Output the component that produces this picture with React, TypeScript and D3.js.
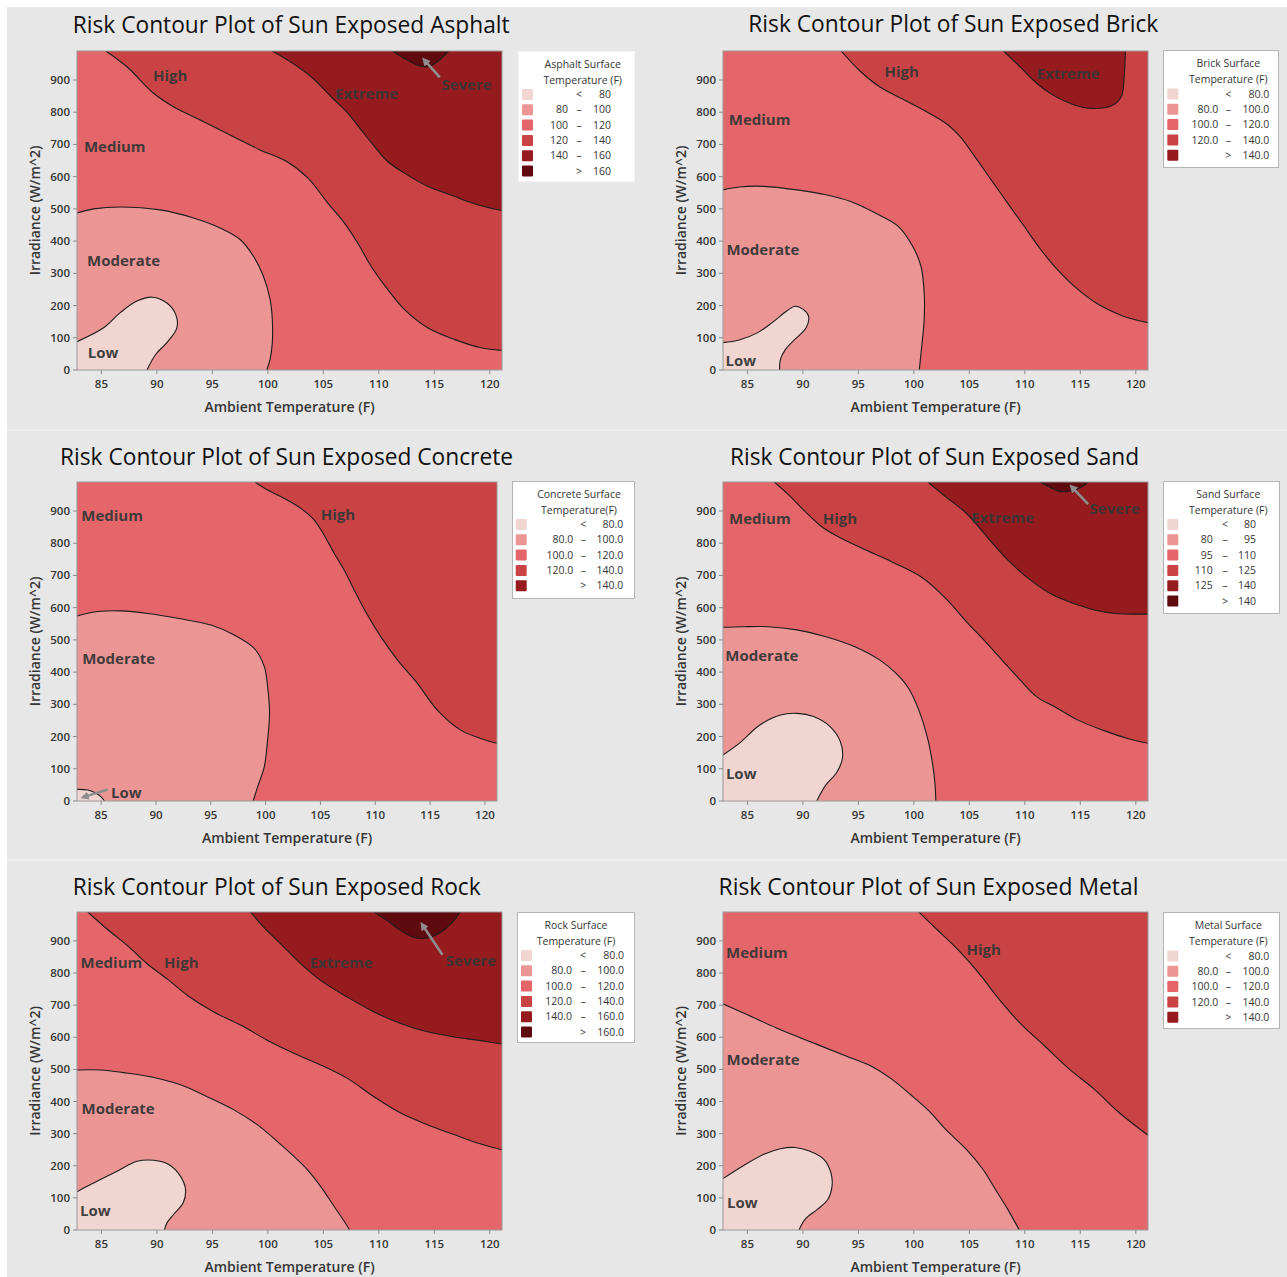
import React from 'react';
import * as d3 from 'd3';

type Pt = [number, number];

// axes shared by all six plots
const tempDomain: [number, number] = [82.8, 121.1];
const irrDomain: [number, number] = [0, 990];
const tempTicks = [85, 90, 95, 100, 105, 110, 115, 120];
const irrTicks = [0, 100, 200, 300, 400, 500, 600, 700, 800, 900];

// Low, Moderate, Medium, High, Extreme, Severe
const riskColors = ['#f0d5d0', '#eb9595', '#e5666a', '#c94244', '#951b1f', '#5f0a0e'];

// ---- Asphalt
const asphaltTitle = 'Risk Contour Plot of Sun Exposed Asphalt';
const asphaltLegendTitle = ['Asphalt Surface', 'Temperature (F)'];
const asphaltBreaks = [80, 100, 120, 140, 160];
const asphaltContours: Pt[][] = [
  [[82.8, 88], [85.2, 131], [86.7, 178], [88.2, 214], [89.6, 226], [90.9, 208], [91.7, 172], [91.8, 131], [90.9, 85], [89.9, 49], [89.1, 0]],
  [[82.8, 487], [84.3, 500], [86.7, 506], [90.3, 497], [93.3, 472], [95.7, 441], [97.5, 405], [98.7, 353], [99.6, 291], [100.2, 219], [100.4, 157], [100.4, 85], [100.2, 33], [99.9, 0]],
  [[85.4, 990], [87.3, 941], [89.7, 859], [91.5, 817], [93.9, 776], [96.9, 724], [99.3, 683], [101.7, 647], [103.6, 596], [105.4, 518], [106.9, 456], [108.1, 394], [109.3, 322], [110.8, 250], [112.3, 188], [114.4, 131], [116.8, 95], [119.2, 69], [121.1, 61]],
  [[100.4, 990], [102.0, 957], [103.9, 910], [105.7, 848], [107.2, 797], [108.4, 745], [109.6, 694], [110.8, 647], [112.3, 611], [114.4, 570], [116.8, 539], [118.9, 513], [121.1, 495]],
  [[111.2, 990], [112.3, 967], [113.5, 946], [114.4, 941], [115.3, 957], [116.3, 990]],
];
const asphaltLabels = [
  { text: 'Low', t: 85.15, irr: 52 }, { text: 'Moderate', t: 87.0, irr: 340 },
  { text: 'Medium', t: 86.2, irr: 693 }, { text: 'High', t: 91.2, irr: 912 },
  { text: 'Extreme', t: 108.9, irr: 857 }, { text: 'Severe', t: 117.9, irr: 884 },
];
const asphaltArrows: Pt[][] = [[[115.5, 908], [114.1, 962]]];

// ---- Brick
const brickTitle = 'Risk Contour Plot of Sun Exposed Brick';
const brickLegendTitle = ['Brick Surface', 'Temperature (F)'];
const brickBreaks = [80, 100, 120, 140];
const brickContours: Pt[][] = [
  [[82.8, 85], [84.26, 93], [85.93, 116], [87.23, 147], [88.54, 183], [89.28, 198], [90.03, 188], [90.51, 167], [90.29, 131], [89.28, 95], [88.43, 64], [87.98, 33], [87.9, 0]],
  [[82.8, 559], [84.26, 568], [86.49, 570], [89.47, 559], [92.07, 544], [94.31, 523], [96.54, 487], [98.59, 446], [99.89, 384], [100.64, 322], [100.93, 239], [100.93, 157], [100.71, 74], [100.49, 0]],
  [[93.45, 990], [95.05, 931], [96.91, 879], [99.15, 838], [101.38, 797], [103.06, 761], [104.17, 724], [105.48, 663], [106.97, 590], [108.45, 518], [109.94, 446], [111.43, 374], [112.92, 312], [114.78, 250], [116.65, 203], [118.88, 167], [121.1, 147]],
  [[108.08, 990], [109.57, 941], [111.06, 890], [112.55, 853], [114.41, 823], [115.9, 812], [117.76, 819], [118.69, 848], [118.95, 910], [119.06, 990]],
];
const brickLabels = [
  { text: 'Low', t: 84.4, irr: 28 }, { text: 'Moderate', t: 86.4, irr: 374 },
  { text: 'Medium', t: 86.1, irr: 776 }, { text: 'High', t: 98.9, irr: 926 },
  { text: 'Extreme', t: 113.9, irr: 918 },
];

// ---- Concrete
const concreteTitle = 'Risk Contour Plot of Sun Exposed Concrete';
const concreteLegendTitle = ['Concrete Surface', 'Temperature(F)'];
const concreteBreaks = [80, 100, 120, 140];
const concreteContours: Pt[][] = [
  [[82.8, 36], [83.79, 34], [84.54, 24], [85, 13], [85.3, 0]],
  [[82.8, 574], [84.7, 588], [86.82, 590], [89.25, 582], [91.98, 567], [95.02, 546], [97.14, 515], [98.96, 474], [99.88, 417], [100.18, 355], [100.36, 272], [100.18, 189], [99.88, 107], [99.27, 44], [98.87, 0]],
  [[99.03, 990], [100.18, 965], [101.7, 939], [103.21, 908], [104.43, 872], [105.34, 825], [106.25, 769], [107.16, 717], [108.07, 655], [109.29, 577], [110.5, 510], [112.02, 438], [113.84, 365], [115.66, 282], [117.79, 220], [119.61, 194], [121.1, 179]],
];
const concreteLabels = [
  { text: 'Low', t: 87.3, irr: 26 }, { text: 'Moderate', t: 86.6, irr: 443 },
  { text: 'Medium', t: 86.0, irr: 884 }, { text: 'High', t: 106.6, irr: 888 },
];
const concreteArrows: Pt[][] = [[[85.6, 36], [83.4, 12]]];

// ---- Sand
const sandTitle = 'Risk Contour Plot of Sun Exposed Sand';
const sandLegendTitle = ['Sand Surface', 'Temperature (F)'];
const sandBreaks = [80, 95, 110, 125, 140];
const sandContours: Pt[][] = [
  [[82.8, 143], [84.26, 179], [86.12, 236], [87.98, 267], [89.47, 272], [90.96, 262], [92.45, 231], [93.38, 184], [93.56, 132], [93.0, 86], [92.07, 50], [91.25, 0]],
  [[82.8, 539], [84.63, 541], [86.86, 541], [89.47, 531], [92.07, 510], [94.68, 479], [96.91, 438], [98.4, 396], [99.52, 350], [100.45, 282], [101.2, 200], [101.68, 117], [101.9, 55], [101.98, 0]],
  [[87.42, 990], [88.72, 950], [90.21, 898], [91.7, 851], [93.19, 820], [95.42, 783], [98.03, 742], [100.64, 696], [102.87, 629], [104.73, 557], [106.59, 489], [108.08, 432], [109.57, 376], [111.06, 324], [112.92, 288], [114.78, 251], [117.02, 220], [119.25, 194], [121.1, 179]],
  [[101.27, 990], [102.87, 944], [104.73, 893], [106.59, 820], [108.45, 748], [110.69, 681], [112.55, 639], [114.41, 613], [116.27, 593], [118.13, 582], [121.1, 580]],
  [[111.36, 990], [112.18, 975], [113.3, 960], [114.23, 963], [115.16, 975], [115.71, 990]],
];
const sandLabels = [
  { text: 'Low', t: 84.44, irr: 86 }, { text: 'Moderate', t: 86.3, irr: 450 },
  { text: 'Medium', t: 86.12, irr: 877 }, { text: 'High', t: 93.34, irr: 877 },
  { text: 'Extreme', t: 108.0, irr: 880 }, { text: 'Severe', t: 118.1, irr: 908 },
];
const sandArrows: Pt[][] = [[[115.7, 921], [114.23, 975]]];

// ---- Rock
const rockTitle = 'Risk Contour Plot of Sun Exposed Rock';
const rockLegendTitle = ['Rock Surface', 'Temperature (F)'];
const rockBreaks = [80, 100, 120, 140, 160];
const rockContours: Pt[][] = [
  [[82.8, 119], [83.71, 136], [84.91, 157], [86.41, 183], [88.22, 214], [89.72, 217], [91.07, 204], [92.13, 167], [92.58, 126], [92.37, 85], [91.52, 49], [90.92, 23], [90.68, 0]],
  [[82.8, 498], [84.91, 498], [87.01, 490], [89.42, 477], [92.13, 452], [94.53, 415], [96.94, 374], [99.04, 328], [100.84, 276], [102.35, 229], [103.55, 188], [104.75, 136], [105.96, 74], [106.86, 28], [107.37, 0]],
  [[83.77, 990], [85.51, 937], [87.32, 886], [89.12, 829], [90.92, 782], [92.73, 731], [95.13, 679], [97.54, 638], [99.94, 591], [102.35, 550], [104.75, 514], [107.16, 472], [109.56, 415], [111.97, 364], [114.37, 328], [116.78, 297], [118.88, 271], [121.1, 250]],
  [[98.44, 990], [99.64, 942], [101.15, 891], [102.95, 829], [104.75, 777], [107.16, 725], [109.56, 679], [111.97, 643], [114.37, 617], [116.78, 601], [118.88, 591], [121.1, 579]],
  [[109.56, 990], [110.77, 963], [111.97, 932], [113.17, 911], [114.37, 909], [115.58, 927], [116.63, 958], [117.32, 990]],
];
const rockLabels = [
  { text: 'Low', t: 84.46, irr: 61 }, { text: 'Moderate', t: 86.5, irr: 376 },
  { text: 'Medium', t: 85.9, irr: 832 }, { text: 'High', t: 92.2, irr: 832 },
  { text: 'Extreme', t: 106.6, irr: 832 }, { text: 'Severe', t: 118.3, irr: 839 },
];
const rockArrows: Pt[][] = [[[115.73, 857], [113.92, 950]]];

// ---- Metal
const metalTitle = 'Risk Contour Plot of Sun Exposed Metal';
const metalLegendTitle = ['Metal Surface', 'Temperature (F)'];
const metalBreaks = [80, 100, 120, 140];
const metalContours: Pt[][] = [
  [[82.8, 160], [84.63, 200], [86.49, 236], [87.98, 253], [89.28, 257], [90.58, 246], [91.89, 220], [92.52, 179], [92.63, 138], [92.26, 96], [91.33, 65], [90.21, 34], [89.65, 0]],
  [[82.8, 704], [85, 670], [87.61, 629], [90.96, 582], [93.94, 541], [96.17, 510], [98.03, 469], [99.89, 416], [101.38, 370], [102.87, 313], [104.73, 251], [106.22, 189], [107.34, 127], [108.45, 65], [109.5, 0]],
  [[100.45, 990], [102.13, 934], [103.99, 872], [105.85, 800], [107.71, 717], [109.57, 644], [111.81, 572], [114.04, 500], [116.27, 438], [118.51, 365], [121.1, 295]],
];
const metalLabels = [
  { text: 'Low', t: 84.55, irr: 86 }, { text: 'Moderate', t: 86.41, irr: 531 },
  { text: 'Medium', t: 85.86, irr: 864 }, { text: 'High', t: 106.3, irr: 874 },
];

const panels = [
  { title: asphaltTitle, legendTitle: asphaltLegendTitle, breaks: asphaltBreaks, decimals: 0, contours: asphaltContours, labels: asphaltLabels, arrows: asphaltArrows },
  { title: brickTitle, legendTitle: brickLegendTitle, breaks: brickBreaks, decimals: 1, contours: brickContours, labels: brickLabels, arrows: [] as Pt[][] },
  { title: concreteTitle, legendTitle: concreteLegendTitle, breaks: concreteBreaks, decimals: 1, contours: concreteContours, labels: concreteLabels, arrows: concreteArrows },
  { title: sandTitle, legendTitle: sandLegendTitle, breaks: sandBreaks, decimals: 0, contours: sandContours, labels: sandLabels, arrows: sandArrows },
  { title: rockTitle, legendTitle: rockLegendTitle, breaks: rockBreaks, decimals: 1, contours: rockContours, labels: rockLabels, arrows: rockArrows },
  { title: metalTitle, legendTitle: metalLegendTitle, breaks: metalBreaks, decimals: 1, contours: metalContours, labels: metalLabels, arrows: [] as Pt[][] },
];

// page layout (pixels)
const layouts = [
  { plot: [77, 51, 502, 370], title: [72.7, 33, 437], legend: { x: 518, y: 51, w: 116, h: 130, sw: 4, row0: 43.5, dash: 61, leftR: 50, rightR: 93, tcx: 64.7 }, border: '#f4f4f4' },
  { plot: [723, 51, 1148, 370], title: [748.3, 32, 410], legend: { x: 1163, y: 50, w: 115, h: 117, sw: 4.3, row0: 44, dash: 65.3, leftR: 55.3, rightR: 106.3, tcx: 65.3 }, border: '#b5b5b5' },
  { plot: [77, 482, 497, 801], title: [60, 465, 453], legend: { x: 512, y: 481, w: 122, h: 117, sw: 3.7, row0: 43.5, dash: 71.3, leftR: 61.3, rightR: 111.3, tcx: 67 }, border: '#b5b5b5' },
  { plot: [723, 482, 1148, 801], title: [730, 465, 409], legend: { x: 1163, y: 481, w: 116, h: 132, sw: 4.3, row0: 43.5, dash: 62, leftR: 49.7, rightR: 93, tcx: 65.3 }, border: '#b5b5b5' },
  { plot: [77, 912, 502, 1230], title: [72.7, 895, 408], legend: { x: 517, y: 912, w: 117, h: 130, sw: 4, row0: 43.5, dash: 66, leftR: 55, rightR: 107, tcx: 59 }, border: '#b5b5b5' },
  { plot: [723, 912, 1148, 1230], title: [718.5, 895, 420], legend: { x: 1163, y: 912, w: 116, h: 116, sw: 4.3, row0: 44, dash: 65.3, leftR: 55.3, rightR: 106.3, tcx: 65.3 }, border: '#b5b5b5' },
];

const FONT = "'Open Sans', 'Noto Sans', sans-serif";
const TEXT = '#363636';

// position of a boundary point going counter-clockwise round the plot (data space)
function perim(p: Pt) {
  const u = (p[0] - tempDomain[0]) / (tempDomain[1] - tempDomain[0]);
  const v = (p[1] - irrDomain[0]) / (irrDomain[1] - irrDomain[0]);
  if (v <= 0.01) return u;
  if (u >= 0.99) return 1 + v;
  if (v >= 0.99) return 2 + (1 - u);
  return 3 + (1 - v);
}
const corners: Pt[] = [
  [tempDomain[0], irrDomain[0]], [tempDomain[1], irrDomain[0]],
  [tempDomain[1], irrDomain[1]], [tempDomain[0], irrDomain[1]],
];
function closing(pts: Pt[]): Pt[] {
  const te = perim(pts[pts.length - 1]);
  let ts = perim(pts[0]);
  if (ts <= te) ts += 4;
  const out: Pt[] = [];
  for (let k = 1; k < 9; k++) if (k > te && k < ts) out.push(corners[k % 4]);
  return out;
}

function Panel({ idx }: { idx: number }) {
  const p = panels[idx];
  const L = layouts[idx];
  const [x0, y0, x1, y1] = L.plot;
  const x = d3.scaleLinear().domain(tempDomain).range([x0, x1]);
  const y = d3.scaleLinear().domain(irrDomain).range([y1, y0]);
  const line = d3.line<Pt>().x(d => x(d[0])).y(d => y(d[1])).curve(d3.curveCatmullRom.alpha(0.5));
  const clipId = `clip${idx}`;
  const fmt = d3.format(`.${p.decimals}f`);
  const b = p.breaks;
  const rows: string[][] = [['', '<', fmt(b[0])]];
  for (let i = 0; i < b.length - 1; i++) rows.push([fmt(b[i]), '–', fmt(b[i + 1])]);
  rows.push(['', '>', fmt(b[b.length - 1])]);
  const lg = L.legend;

  return (
    <g>
      <defs>
        <clipPath id={clipId}><rect x={x0} y={y0} width={x1 - x0} height={y1 - y0} /></clipPath>
      </defs>
      <text x={L.title[0]} y={L.title[1]} textLength={L.title[2]} lengthAdjust="spacingAndGlyphs"
        fontFamily={FONT} fontSize={23} fill="#111">{p.title}</text>

      <g clipPath={`url(#${clipId})`}>
        <rect x={x0} y={y0} width={x1 - x0} height={y1 - y0} fill={riskColors[0]} />
        {p.contours.map((c, i) => (
          <path key={'f' + i}
            d={line(c) + closing(c).map(q => `L${x(q[0])},${y(q[1])}`).join('') + 'Z'}
            fill={riskColors[i + 1]} />
        ))}
        {p.contours.map((c, i) => (
          <path key={'s' + i} d={line(c) || ''} fill="none" stroke="#1c1c1c" strokeWidth={1.1} />
        ))}
      </g>
      <rect x={x0} y={y0} width={x1 - x0} height={y1 - y0} fill="none" stroke="#9a9a9a" strokeWidth={1} />

      {p.labels.map(l => (
        <text key={l.text} x={x(l.t)} y={y(l.irr)} dy="0.35em" textAnchor="middle"
          fontFamily={FONT} fontWeight={700} fontSize={15} fill={TEXT} fillOpacity={0.95}>{l.text}</text>
      ))}
      {p.arrows.map((a, i) => (
        <line key={'a' + i} x1={x(a[0][0])} y1={y(a[0][1])} x2={x(a[1][0])} y2={y(a[1][1])}
          stroke="#8e8e8e" strokeWidth={2.6} markerEnd="url(#arrowHead)" />
      ))}

      {tempTicks.map(t => (
        <g key={'x' + t}>
          <line x1={x(t)} x2={x(t)} y1={y1} y2={y1 + 4} stroke="#8a8a8a" />
          <text x={x(t)} y={y1 + 17.5} textAnchor="middle" fontFamily={FONT} fontWeight={600}
            fontSize={11.5} fill={TEXT}>{t}</text>
        </g>
      ))}
      {irrTicks.map(t => (
        <g key={'y' + t}>
          <line x1={x0 - 4} x2={x0} y1={y(t)} y2={y(t)} stroke="#8a8a8a" />
          <text x={x0 - 7} y={y(t)} dy="0.35em" textAnchor="end" fontFamily={FONT} fontWeight={600}
            fontSize={11.5} fill={TEXT}>{t}</text>
        </g>
      ))}
      <text x={(x0 + x1) / 2} y={y1 + 42} textAnchor="middle" fontFamily={FONT} fontWeight={600}
        fontSize={14} fill={TEXT}>Ambient Temperature (F)</text>
      <text transform={`translate(${x0 - 42},${(y0 + y1) / 2}) rotate(-90)`} textAnchor="middle"
        dy="0.35em" fontFamily={FONT} fontWeight={600} fontSize={14} fill={TEXT}>Irradiance (W/m^2)</text>

      <g transform={`translate(${lg.x},${lg.y})`}>
        <rect x={0.5} y={0.5} width={lg.w} height={lg.h} fill="#fff" stroke={L.border} />
        {p.legendTitle.map((s, i) => (
          <text key={s} x={lg.tcx} y={16.5 + i * 16} textAnchor="middle" fontFamily={FONT}
            fontSize={10.5} fill={TEXT}>{s}</text>
        ))}
        {rows.map((r, i) => {
          const cy = lg.row0 + i * 15.3;
          return (
            <g key={'r' + i}>
              <rect x={lg.sw} y={cy - 5.5} width={11} height={11} rx={1} fill={riskColors[i]} />
              <text x={lg.leftR} y={cy} dy="0.35em" textAnchor="end" fontFamily={FONT} fontSize={10.5} fill={TEXT}>{r[0]}</text>
              <text x={lg.dash} y={cy} dy="0.35em" textAnchor="middle" fontFamily={FONT} fontSize={10.5} fill={TEXT}>{r[1]}</text>
              <text x={lg.rightR} y={cy} dy="0.35em" textAnchor="end" fontFamily={FONT} fontSize={10.5} fill={TEXT}>{r[2]}</text>
            </g>
          );
        })}
      </g>
    </g>
  );
}

export default function App() {
  return (
    <svg width={1287} height={1277} style={{ position: 'absolute', left: 0, top: 0, display: 'block' }}>
      <defs>
        <marker id="arrowHead" viewBox="0 0 10 10" refX={6} refY={5} markerWidth={3.2} markerHeight={3.2}
          orient="auto-start-reverse">
          <path d="M0,0L10,5L0,10Z" fill="#8e8e8e" />
        </marker>
      </defs>
      <rect width={1287} height={1277} fill="#fff" />
      <rect x={7} y={7} width={1280} height={1270} fill="#e7e7e7" />
      <rect x={7} y={429} width={1280} height={2} fill="#eeeeee" />
      <rect x={7} y={859} width={1280} height={2} fill="#eeeeee" />
      {panels.map((_, i) => <Panel key={i} idx={i} />)}
    </svg>
  );
}
